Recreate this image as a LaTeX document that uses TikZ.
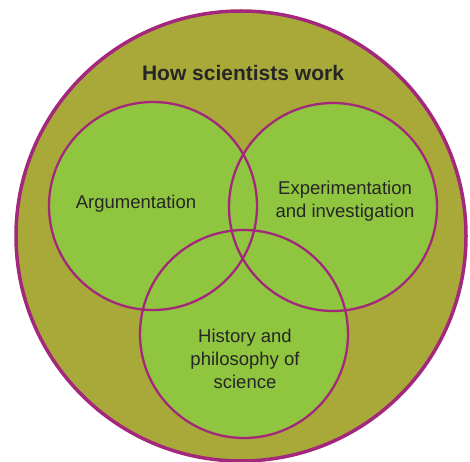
\documentclass[tikz,border=0pt]{standalone}
\usepackage{fontspec}
\setmainfont{Liberation Sans}
\usepackage{xcolor}
\definecolor{olivefill}{HTML}{A9A93A}
\definecolor{leaf}{HTML}{8FC53F}
\definecolor{rim}{HTML}{A3287B}
\definecolor{ink}{HTML}{262626}
\begin{document}
\begin{tikzpicture}[x=1pt,y=1pt,
  venn/.style={circle,minimum size=208pt,inner sep=0pt,outer sep=0pt},
  label/.style={text=ink,align=center,font=\fontsize{18.5}{23}\selectfont}]
  \useasboundingbox (0,0) rectangle (470,461);
  \node[circle,minimum size=450pt,inner sep=0pt,fill=olivefill,draw=rim,line width=3.5pt] (world) at (241,225) {};
  \node[label,font=\fontsize{21}{24}\selectfont\bfseries] (title) at (243,388) {How scientists work};
  % the three fields
  \node[venn,fill=leaf] (arg) at (153,255) {};
  \node[venn,fill=leaf] (exp) at (333,254) {};
  \node[venn,fill=leaf] (hist) at (244,127) {};
  \foreach \c in {arg,exp,hist}
    \node[venn,draw=rim,line width=2.3pt] at (\c) {};
  \node[label] (argtext) at (136,257) {Argumentation};
  \node[label] (exptext) at (345,260) {Experimentation\\and investigation};
  \node[label] (histtext) at (245,102) {History and\\philosophy of\\science};
\end{tikzpicture}
\end{document}
